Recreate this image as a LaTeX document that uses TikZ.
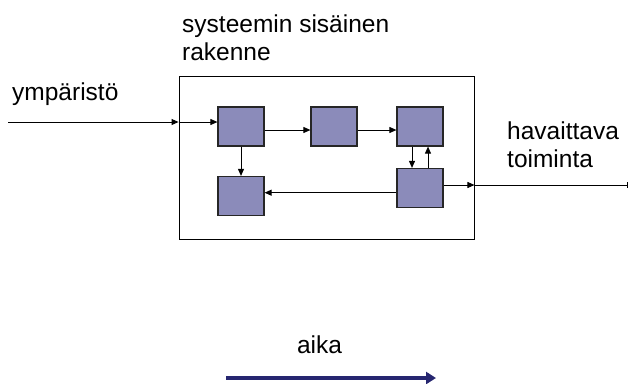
\documentclass[tikz,border=0pt]{standalone}
\usepackage{fontspec}
\setmainfont{Liberation Sans}
\usetikzlibrary{arrows.meta,calc}
\definecolor{blockfill}{RGB}{139,139,186}
\definecolor{timeblue}{RGB}{38,38,112}
\begin{document}
\begin{tikzpicture}[x=1pt,y=-1pt,
  label/.style={inner sep=0pt,anchor=base west,font=\fontsize{24.5}{29}\selectfont},
  block/.style={draw=black!85,line width=1.2pt,fill=blockfill,minimum width=46pt,minimum height=39pt,inner sep=0pt},
  frame/.style={draw,line width=0.9pt,minimum width=295pt,minimum height=163pt,inner sep=0pt},
  conn/.style={line width=0.9pt,-{Triangle[length=7pt,width=6pt]}},
  plain/.style={line width=0.9pt}]
\useasboundingbox (0,0) rectangle (629,383);

% system boundary
\node[frame] (sys) at (326.5,157.5) {};

% internal blocks
\node[block] (A) at (241,126.5) {};
\node[block] (B) at (334,126.5) {};
\node[block] (C) at (420,126.5) {};
\node[block] (D) at (241,196) {};
\node[block] (E) at (420,188) {};

% labels
\node[label] (t1) at (182,32) {systeemin sisäinen};
\node[label] (t2) at (182,60) {rakenne};
\node[label] (t3) at (12,100.5) {ympäristö};
\node[label] (t4) at (507,139) {havaittava};
\node[label] (t5) at (507,167) {toiminta};
\node[label,anchor=base] (t6) at (319.5,353) {aika};

% input from the environment
\coordinate (in) at (8,122);
\draw[conn] (in) -- (in -| sys.west);
\draw[conn] (in -| sys.west) -- (in -| A.west);

% internal flow
\coordinate (row) at (0,130);
\draw[conn] (row -| A.east) -- (row -| B.west);
\draw[conn] (row -| B.east) -- (row -| C.west);
\draw[conn] (A.south) -- (D.north);
\draw[conn] ($(C.south)+(-8,0)$) -- ($(E.north)+(-8,0)$);
\draw[conn] ($(E.north)+(8,0)$) -- ($(C.south)+(8,0)$);
\coordinate (back) at (0,192.7);
\draw[conn] (back -| E.west) -- (back -| D.east);

% observable output
\coordinate (out) at (628,185);
\draw[conn] (out -| E.east) -- (out -| sys.east);
\draw[plain,-{Bar[width=6pt]}] (out -| sys.east) -- (out);

% time axis
\coordinate (t0) at (226,378);
\coordinate (t1e) at (436,378);
\draw[timeblue,line width=4pt,-{Triangle[length=10pt,width=12pt]}] (t0) -- (t1e);
\end{tikzpicture}
\end{document}
